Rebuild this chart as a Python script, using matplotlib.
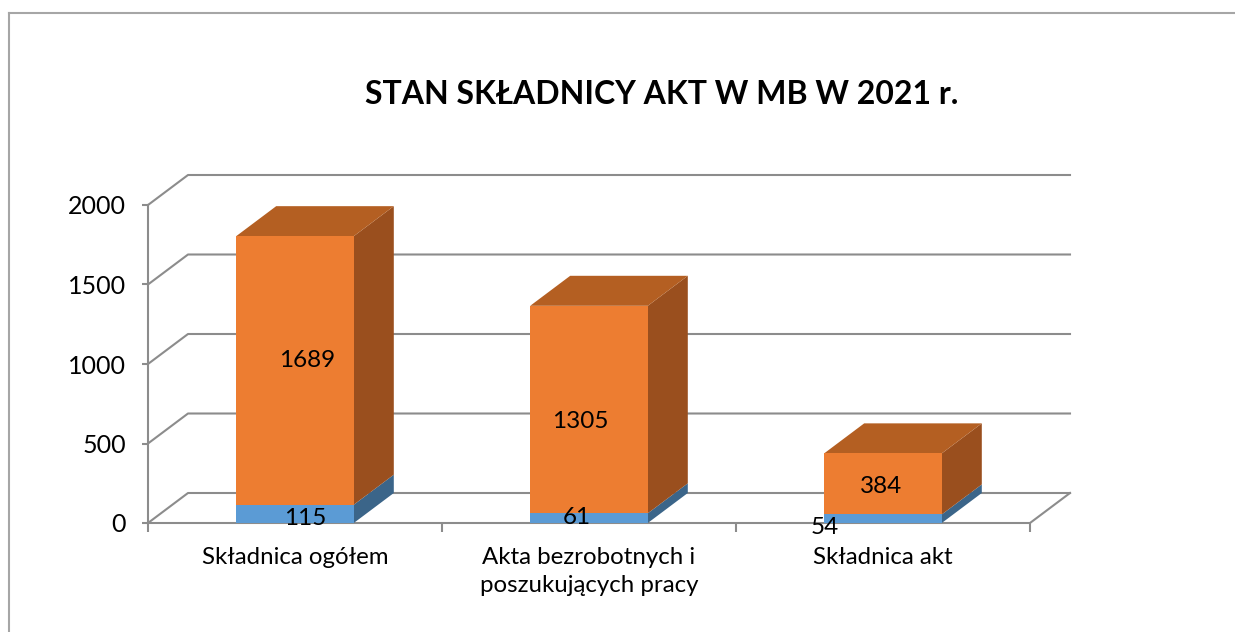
import matplotlib
matplotlib.use('Agg')
from matplotlib import pyplot as plt
from matplotlib.patches import Polygon
from matplotlib.lines import Line2D

plt.rcParams['font.family'] = ['Lato', 'DejaVu Sans']

# dane z wykresu
kategorie = ['Składnica ogółem', 'Akta bezrobotnych i\nposzukujących pracy', 'Składnica akt']
seria_dol = [115, 61, 54]
seria_gora = [1689, 1305, 384]
y_ticks = [0, 500, 1000, 1500, 2000]
tytul = 'STAN SKŁADNICY AKT W MB W 2021 r.'

# przesunięcia etykiet danych (w punktach)
nudge_gora = [(9, 7), (-6.5, -8.5), (-1.5, -2)]
nudge_dol = [(7.5, -3.5), (-9, 0.5), (-42, -6)]

# kolory (jak w Excelu)
pom_front, pom_top, pom_side = '#ED7D31', '#B45F22', '#9A4F1E'
nieb_front, nieb_side = '#5B9BD5', '#3B6589'
szary = '#8c8c8c'

W, H = 1235, 632
fig = plt.figure(figsize=(W / 100, H / 100), dpi=100)
ax = fig.add_axes([148 / W, (H - 523) / H, 882 / W, 318 / H])
ax.set_xlim(0.5, 3.5)
ax.set_ylim(0, 2000)

# głębokość 3D w jednostkach danych
DX = 40 / 294
DY = 30 / 0.159
szer = 0.4

# siatka na tylnej ścianie
for y in y_ticks:
    ax.plot([0.5, 0.5 + DX, 3.5 + DX], [y, y + DY, y + DY], color=szary, lw=1.5, clip_on=False, zorder=1)
ax.plot([0.5, 3.5, 3.5 + DX], [0, 0, DY], color=szary, lw=1.5, clip_on=False, zorder=1)


def prostopadloscian(x0, x1, y0, y1, front, side, top=None):
    poly = [Polygon([(x1, y0), (x1 + DX, y0 + DY), (x1 + DX, y1 + DY), (x1, y1)], closed=True,
                    facecolor=side, edgecolor='none')]
    if top:
        poly.append(Polygon([(x0, y1), (x0 + DX, y1 + DY), (x1 + DX, y1 + DY), (x1, y1)], closed=True,
                            facecolor=top, edgecolor='none'))
    poly.append(Polygon([(x0, y0), (x1, y0), (x1, y1), (x0, y1)], closed=True,
                        facecolor=front, edgecolor='none'))
    for p in poly:
        p.set_clip_on(False)
        p.set_zorder(2)
        ax.add_patch(p)


for i, (b, o) in enumerate(zip(seria_dol, seria_gora)):
    xc = i + 1
    x0, x1 = xc - szer / 2, xc + szer / 2
    prostopadloscian(x0, x1, 0, b, nieb_front, nieb_side)
    prostopadloscian(x0, x1, b, b + o, pom_front, pom_side, pom_top)
    ax.annotate(str(o), (xc, b + o / 2), xytext=nudge_gora[i], textcoords='offset points',
                ha='center', va='center', fontsize=17.5, zorder=5, annotation_clip=False)
    ax.annotate(str(b), (xc, b / 2), xytext=nudge_dol[i], textcoords='offset points',
                ha='center', va='center', fontsize=17.5, zorder=5, annotation_clip=False)

# osie
for s in ['top', 'right', 'bottom']:
    ax.spines[s].set_visible(False)
ax.spines['left'].set_color(szary)
ax.spines['left'].set_linewidth(1.5)
ax.set_yticks(y_ticks)
ax.set_yticklabels([str(v) for v in y_ticks], fontsize=18)
ax.tick_params(axis='y', length=4, width=1.5, color=szary, pad=12)
ax.set_xticks([0.5, 1.5, 2.5, 3.5])
ax.set_xticklabels([])
ax.tick_params(axis='x', which='major', length=6.5, width=1.5, color=szary)
ax.set_xticks([1, 2, 3], minor=True)
ax.set_xticklabels(kategorie, minor=True, fontsize=17.3)
ax.tick_params(axis='x', which='minor', length=0, pad=17)
for t in ax.get_xticklabels(minor=True):
    t.set_linespacing(1.45)
ax.patch.set_visible(False)

fig.text(662 / W, 1 - 95 / H, tytul, ha='center', va='center', fontsize=23, fontweight='bold')

# ramka wykresu
fig.add_artist(Line2D([9 / W, 9 / W], [0, 1 - 13 / H], transform=fig.transFigure, color='#a6a6a6', lw=1.5))
fig.add_artist(Line2D([9 / W, 1], [1 - 13 / H, 1 - 13 / H], transform=fig.transFigure, color='#a6a6a6', lw=1.5))

plt.savefig('out.png', dpi=100)
